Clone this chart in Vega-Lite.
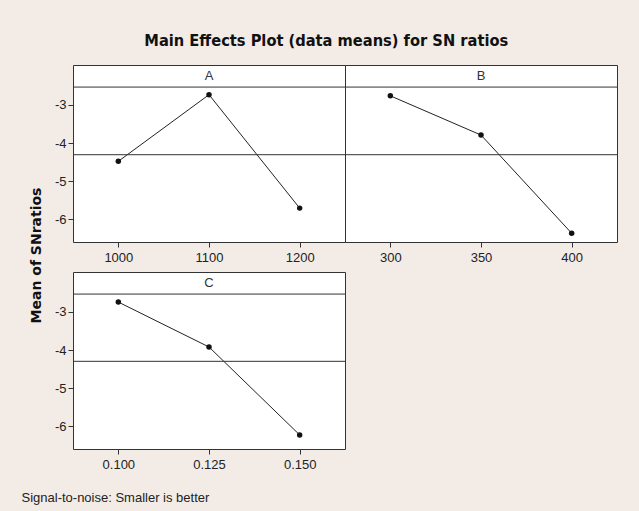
{
  "$schema": "https://vega.github.io/schema/vega-lite/v6.json",
  "autosize": {"type": "pad"},
  "padding": {"left": 20, "top": 33, "right": 23, "bottom": 6},
  "background": "#f3ece6",
  "title": {
    "text": "Main Effects Plot (data means) for SN ratios",
    "font": "DejaVu Sans Condensed",
    "fontSize": 16.3,
    "fontWeight": "bold",
    "color": "#111111",
    "anchor": "middle",
    "dx": 7,
    "offset": 15
  },
  "datasets": {
    "sn": [
      {"factor": "A", "level": 1000, "sn": -4.48},
      {"factor": "A", "level": 1100, "sn": -2.73},
      {"factor": "A", "level": 1200, "sn": -5.71},
      {"factor": "B", "level": 300, "sn": -2.76},
      {"factor": "B", "level": 350, "sn": -3.79},
      {"factor": "B", "level": 400, "sn": -6.37},
      {"factor": "C", "level": 0.1, "sn": -2.74},
      {"factor": "C", "level": 0.125, "sn": -3.92},
      {"factor": "C", "level": 0.15, "sn": -6.23}
    ]
  },
  "columns": 2,
  "spacing": {"row": 30, "column": 0},
  "bounds": "flush",
  "concat": [
    {
      "width": 272,
      "height": 177,
      "data": {"name": "sn"},
      "transform": [{"filter": "datum.factor === 'A'"}],
      "layer": [
        {
          "mark": {"type": "line", "color": "#222222", "strokeWidth": 1},
          "encoding": {
            "x": {"field": "level", "type": "quantitative", "scale": {"domain": [950, 1250], "nice": false, "zero": false},
                  "axis": {"values": [1000, 1100, 1200], "format": "d", "title": null}},
            "y": {"field": "sn", "type": "quantitative", "scale": {"domain": [-6.6, -1.95], "nice": false, "zero": false},
                  "axis": {"values": [-3, -4, -5, -6], "labelExpr": "datum.value + ''",
                           "title": "Mean of SNratios", "titleFont": "DejaVu Sans", "titleFontSize": 14,
                           "titleFontWeight": "bold", "titleColor": "#111111", "titleX": -37, "titleY": 190,
                           "titleAngle": 270, "titleAlign": "center", "titleBaseline": "middle"}}
          }
        },
        {
          "data": {"values": [{"factor": "A"}]},
          "mark": {"type": "rule", "color": "#333333", "strokeWidth": 1},
          "encoding": {"y": {"datum": -2.53, "type": "quantitative", "scale": {"domain": [-6.6, -1.95], "nice": false, "zero": false}}}
        },
        {
          "data": {"values": [{"factor": "A"}]},
          "mark": {"type": "text", "font": "Liberation Sans", "fontSize": 13, "color": "#333333"},
          "encoding": {
            "x": {"datum": 1100, "type": "quantitative", "scale": {"domain": [950, 1250], "nice": false, "zero": false}},
            "y": {"datum": -2.24, "type": "quantitative", "scale": {"domain": [-6.6, -1.95], "nice": false, "zero": false}},
            "text": {"field": "factor"}
          }
        },
        {
          "mark": {"type": "rule", "color": "#333333", "strokeWidth": 1},
          "encoding": {"y": {"aggregate": "mean", "field": "sn", "type": "quantitative", "scale": {"domain": [-6.6, -1.95], "nice": false, "zero": false}}}
        },
        {
          "mark": {"type": "point", "filled": true, "color": "#111111", "size": 30, "opacity": 1},
          "encoding": {
            "x": {"field": "level", "type": "quantitative", "scale": {"domain": [950, 1250], "nice": false, "zero": false}},
            "y": {"field": "sn", "type": "quantitative", "scale": {"domain": [-6.6, -1.95], "nice": false, "zero": false}}
          }
        }
      ]
    },
    {
      "width": 272,
      "height": 177,
      "data": {"name": "sn"},
      "transform": [{"filter": "datum.factor === 'B'"}],
      "layer": [
        {
          "mark": {"type": "line", "color": "#222222", "strokeWidth": 1},
          "encoding": {
            "x": {"field": "level", "type": "quantitative", "scale": {"domain": [275, 425], "nice": false, "zero": false},
                  "axis": {"values": [300, 350, 400], "format": "d", "title": null}},
            "y": {"field": "sn", "type": "quantitative", "scale": {"domain": [-6.6, -1.95], "nice": false, "zero": false},
                  "axis": {"labels": false, "ticks": false, "domain": false, "title": null}}
          }
        },
        {
          "data": {"values": [{"factor": "B"}]},
          "mark": {"type": "rule", "color": "#333333", "strokeWidth": 1},
          "encoding": {"y": {"datum": -2.53, "type": "quantitative", "scale": {"domain": [-6.6, -1.95], "nice": false, "zero": false}}}
        },
        {
          "data": {"values": [{"factor": "B"}]},
          "mark": {"type": "text", "font": "Liberation Sans", "fontSize": 13, "color": "#333333"},
          "encoding": {
            "x": {"datum": 350, "type": "quantitative", "scale": {"domain": [275, 425], "nice": false, "zero": false}},
            "y": {"datum": -2.24, "type": "quantitative", "scale": {"domain": [-6.6, -1.95], "nice": false, "zero": false}},
            "text": {"field": "factor"}
          }
        },
        {
          "mark": {"type": "rule", "color": "#333333", "strokeWidth": 1},
          "encoding": {"y": {"aggregate": "mean", "field": "sn", "type": "quantitative", "scale": {"domain": [-6.6, -1.95], "nice": false, "zero": false}}}
        },
        {
          "mark": {"type": "point", "filled": true, "color": "#111111", "size": 30, "opacity": 1},
          "encoding": {
            "x": {"field": "level", "type": "quantitative", "scale": {"domain": [275, 425], "nice": false, "zero": false}},
            "y": {"field": "sn", "type": "quantitative", "scale": {"domain": [-6.6, -1.95], "nice": false, "zero": false}}
          }
        }
      ]
    },
    {
      "width": 272,
      "height": 177,
      "data": {"name": "sn"},
      "transform": [{"filter": "datum.factor === 'C'"}],
      "layer": [
        {
          "mark": {"type": "line", "color": "#222222", "strokeWidth": 1},
          "encoding": {
            "x": {"field": "level", "type": "quantitative", "scale": {"domain": [0.0875, 0.1625], "nice": false, "zero": false},
                  "axis": {"values": [0.1, 0.125, 0.15], "format": ".3f",
                           "title": "Signal-to-noise: Smaller is better", "titleFont": "Liberation Sans",
                           "titleFontSize": 13, "titleFontWeight": "normal", "titleColor": "#222222",
                           "titleX": -52, "titleY": 52, "titleAlign": "left",
                           "titleBaseline": "alphabetic"}},
            "y": {"field": "sn", "type": "quantitative", "scale": {"domain": [-6.6, -1.95], "nice": false, "zero": false},
                  "axis": {"values": [-3, -4, -5, -6], "labelExpr": "datum.value + ''", "title": null}}
          }
        },
        {
          "data": {"values": [{"factor": "C"}]},
          "mark": {"type": "rule", "color": "#333333", "strokeWidth": 1},
          "encoding": {"y": {"datum": -2.53, "type": "quantitative", "scale": {"domain": [-6.6, -1.95], "nice": false, "zero": false}}}
        },
        {
          "data": {"values": [{"factor": "C"}]},
          "mark": {"type": "text", "font": "Liberation Sans", "fontSize": 13, "color": "#333333"},
          "encoding": {
            "x": {"datum": 0.125, "type": "quantitative", "scale": {"domain": [0.0875, 0.1625], "nice": false, "zero": false}},
            "y": {"datum": -2.24, "type": "quantitative", "scale": {"domain": [-6.6, -1.95], "nice": false, "zero": false}},
            "text": {"field": "factor"}
          }
        },
        {
          "mark": {"type": "rule", "color": "#333333", "strokeWidth": 1},
          "encoding": {"y": {"aggregate": "mean", "field": "sn", "type": "quantitative", "scale": {"domain": [-6.6, -1.95], "nice": false, "zero": false}}}
        },
        {
          "mark": {"type": "point", "filled": true, "color": "#111111", "size": 30, "opacity": 1},
          "encoding": {
            "x": {"field": "level", "type": "quantitative", "scale": {"domain": [0.0875, 0.1625], "nice": false, "zero": false}},
            "y": {"field": "sn", "type": "quantitative", "scale": {"domain": [-6.6, -1.95], "nice": false, "zero": false}}
          }
        }
      ]
    }
  ],
  "config": {
    "view": {"fill": "white", "stroke": "#333333", "strokeWidth": 1},
    "axis": {
      "domain": false,
      "grid": false,
      "tickColor": "#333333",
      "tickSize": 5,
      "labelFont": "Liberation Sans",
      "labelFontSize": 13,
      "labelColor": "#222222"
    },
    "axisX": {"labelPadding": 4},
    "axisY": {"labelPadding": 2}
  }
}
